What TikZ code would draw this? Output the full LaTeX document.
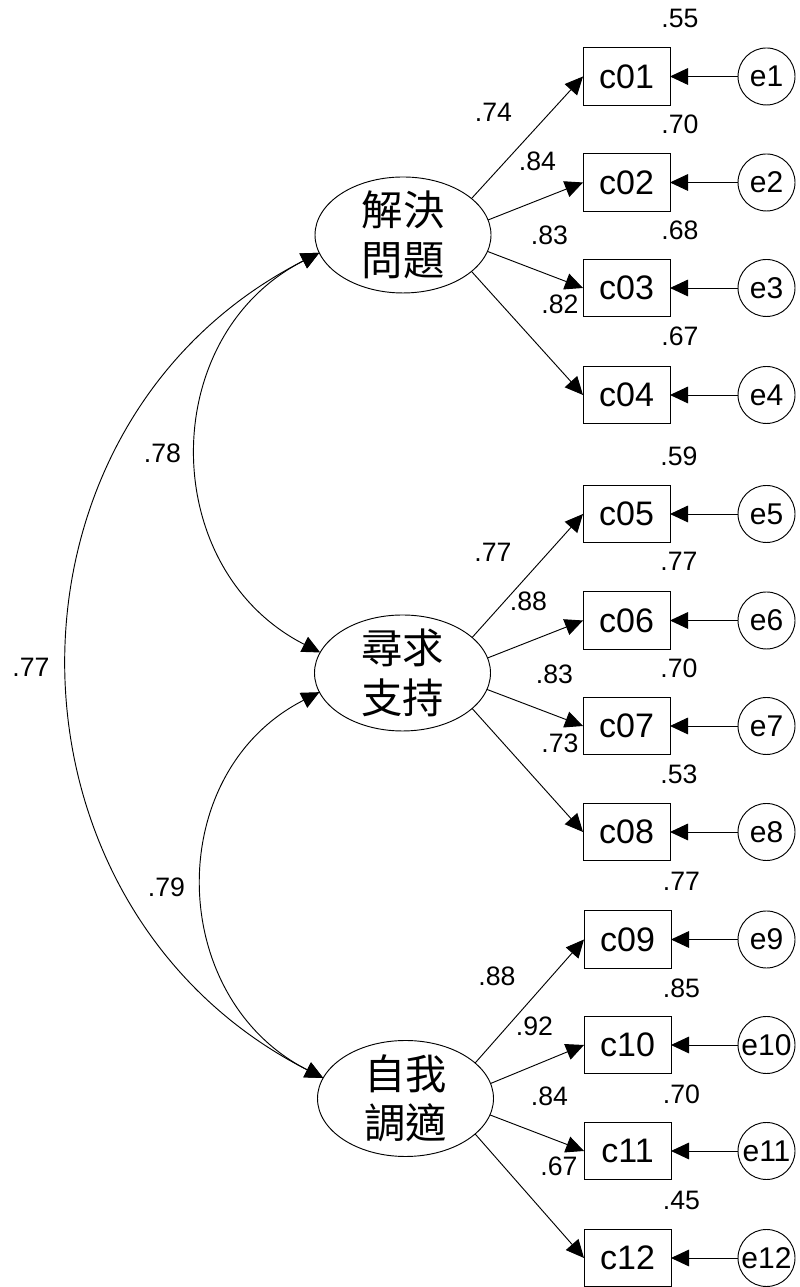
\documentclass[tikz,border=0pt]{standalone}
\usepackage{fontspec}
\setmainfont{Liberation Sans}
\newfontfamily\cjk{Noto Sans CJK TC}
\usetikzlibrary{arrows.meta,shapes.geometric}
\begin{document}
\begin{tikzpicture}[x=0.75pt,y=0.75pt,line width=0.7pt,
  every node/.style={inner sep=0pt,outer sep=0pt},
  obs/.style={draw,rectangle,minimum width=65.25pt,minimum height=43pt,font=\fontsize{25.5}{30}\selectfont},
  err/.style={draw,circle,minimum size=42.75pt,font=\fontsize{22.5}{26}\selectfont},
  lat/.style={draw,ellipse,minimum width=132pt,minimum height=87pt},
  cjklab/.style={font=\cjk\fontsize{31}{37}\selectfont,align=center},
  num/.style={font=\fontsize{20}{24}\selectfont},
  load/.style={-{Triangle[length=13.5pt,width=12.5pt]}},
  covar/.style={{Triangle[length=13.5pt,width=12.5pt]}-{Triangle[length=13.5pt,width=12.5pt]}}]
\useasboundingbox (0,0) rectangle (799,1287);
% latent variables
\node[lat,label={[cjklab]center:解決\\問題}] (g1) at (403,1052) {};
\node[lat,label={[cjklab]center:尋求\\支持}] (g2) at (402.5,614) {};
\node[lat,label={[cjklab]center:自我\\調適}] (g3) at (405.5,188.5) {};
% observed variables
\node[obs] (c01) at (626.5,1210.5) {c01};
\node[obs] (c02) at (626.5,1104.5) {c02};
\node[obs] (c03) at (626.5,999) {c03};
\node[obs] (c04) at (626.5,892) {c04};
\node[obs] (c05) at (626.5,773) {c05};
\node[obs] (c06) at (626.5,666.5) {c06};
\node[obs] (c07) at (626.5,561) {c07};
\node[obs] (c08) at (626.5,455) {c08};
\node[obs] (c09) at (627.5,347.5) {c09};
\node[obs] (c10) at (627.5,242) {c10};
\node[obs] (c11) at (627.5,136) {c11};
\node[obs] (c12) at (627.5,29) {c12};
% errors
\node[err] (e1) at (766.5,1210.5) {e1};
\node[err] (e2) at (766.5,1104.5) {e2};
\node[err] (e3) at (766.5,999) {e3};
\node[err] (e4) at (766.5,892) {e4};
\node[err] (e5) at (766.5,773) {e5};
\node[err] (e6) at (766.5,666.5) {e6};
\node[err] (e7) at (766.5,561) {e7};
\node[err] (e8) at (766.5,455) {e8};
\node[err] (e9) at (766.5,347.5) {e9};
\node[err] (e10) at (766.5,242) {e10};
\node[err] (e11) at (766.5,136) {e11};
\node[err] (e12) at (766.5,29) {e12};
% error paths
\foreach \k in {1,...,9} {\draw[load] (e\k) -- (c0\k);}
\foreach \k in {10,11,12} {\draw[load] (e\k) -- (c\k);}
% loadings
\draw[load] (g1.28) -- (c01.west);
\draw[load] (g1.10) -- (c02.west);
\draw[load] (g1.-11) -- (c03.west);
\draw[load] (g1.-28) -- (c04.west);
\draw[load] (g2.27) -- (c05.west);
\draw[load] (g2.10) -- (c06.west);
\draw[load] (g2.-11) -- (c07.west);
\draw[load] (g2.-27) -- (c08.west);
\draw[load] (g3.27) -- (c09.west);
\draw[load] (g3.10) -- (c10.west);
\draw[load] (g3.-11) -- (c11.west);
\draw[load] (g3.-27) -- (c12.west);
% covariances
\draw[covar] (g1.192) to[out=207,in=153,looseness=1.17] (g2.166.5);
\draw[covar] (g1.192) to[out=207,in=153,looseness=1.17] (g3.166);
\draw[covar] (g2.193.5) to[out=207,in=153,looseness=1.17] (g3.166);
% loading labels
\node[num] (l01) at (493.5,1175) {.74};
\node[num] (l02) at (537.5,1126) {.84};
\node[num] (l03) at (549.5,1052) {.83};
\node[num] (l04) at (560,982.5) {.82};
\node[num] (l05) at (493,735) {.77};
\node[num] (l06) at (528.5,686) {.88};
\node[num] (l07) at (554.5,613) {.83};
\node[num] (l08) at (560,544) {.73};
\node[num] (l09) at (497,311) {.88};
\node[num] (l10) at (534.5,261) {.92};
\node[num] (l11) at (549.5,191) {.84};
\node[num] (l12) at (559,121) {.67};
% squared multiple correlations
\node[num] (r01) at (680,1269) {.55};
\node[num] (r02) at (680,1163) {.70};
\node[num] (r03) at (680,1056.5) {.68};
\node[num] (r04) at (680,950.5) {.67};
\node[num] (r05) at (679,830.5) {.59};
\node[num] (r06) at (679,726) {.77};
\node[num] (r07) at (679,619) {.70};
\node[num] (r08) at (679,513) {.53};
\node[num] (r09) at (681.5,406) {.77};
\node[num] (r10) at (681.5,298.5) {.85};
\node[num] (r11) at (681.5,193) {.70};
\node[num] (r12) at (681.5,86.5) {.45};
% correlation labels
\node[num] (k1) at (162.5,834) {.78};
\node[num] (k2) at (31,620) {.77};
\node[num] (k3) at (166.5,400) {.79};
\end{tikzpicture}
\end{document}
